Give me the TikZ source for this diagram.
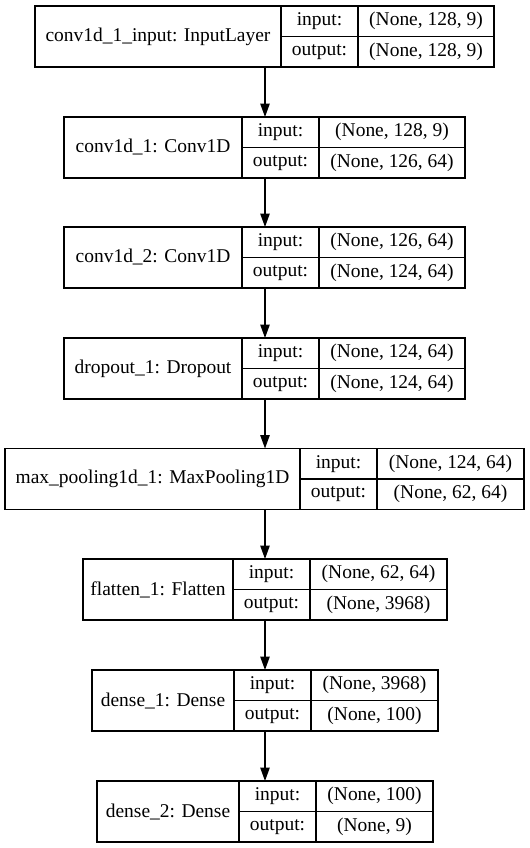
\documentclass[tikz,border=0pt]{standalone}
\usepackage{fontspec}
\setmainfont{Liberation Serif}
\usetikzlibrary{arrows.meta}
\tikzset{
  layerbox/.style={draw=black, line width=1pt, inner sep=0pt, outer sep=0pt, anchor=north west},
  cellline/.style={draw=black, line width=1pt},
  txt/.style={inner sep=0pt, font=\fontsize{14.6pt}{17pt}\selectfont, text=black},
  flow/.style={draw=black, line width=1pt, -{Triangle[length=10pt,width=7pt]}},
}
% #1 name, #2 top, #3 left, #4 div1, #5 div2, #6 right, #7 label, #8 input, #9 output
\newcommand\mylayer[9]{%
  \node[layerbox, minimum width={(#6-#3)*0.75pt}, minimum height=45.75pt] (#1) at (#3,#2) {};
  \draw[cellline] (#4,#2) -- (#4,#2+61) (#5,#2) -- (#5,#2+61) (#4,#2+30.5) -- (#6,#2+30.5);
  \node[txt] (#1-n) at ({(#3+#4)/2},#2+30.5) {#7};
  \node[txt] (#1-i) at ({(#4+#5)/2},#2+15.25) {input:};
  \node[txt] (#1-o) at ({(#4+#5)/2},#2+45.75) {output:};
  \node[txt] (#1-iv) at ({(#5+#6)/2},#2+15.25) {#8};
  \node[txt] (#1-ov) at ({(#5+#6)/2},#2+45.75) {#9};
}
\begin{document}
\begin{tikzpicture}[x=0.75pt,y=-0.75pt]
  \fill[white] (0,0) rectangle (529,848);
  \useasboundingbox (0,0) rectangle (529,848);
  \mylayer{L1}{6}{35}{281}{358}{494}{conv1d\_1\_input: InputLayer}{(None, 128, 9)}{(None, 128, 9)}
  \mylayer{L2}{117}{64}{242}{319}{465}{conv1d\_1: Conv1D}{(None, 128, 9)}{(None, 126, 64)}
  \mylayer{L3}{227}{64}{242}{319}{465}{conv1d\_2: Conv1D}{(None, 126, 64)}{(None, 124, 64)}
  \mylayer{L4}{338}{64}{242}{319}{465}{dropout\_1: Dropout}{(None, 124, 64)}{(None, 124, 64)}
  \mylayer{L5}{448.5}{5}{300}{377}{524}{max\_pooling1d\_1: MaxPooling1D}{(None, 124, 64)}{(None, 62, 64)}
  \mylayer{L6}{559}{83}{233}{310}{447}{flatten\_1: Flatten}{(None, 62, 64)}{(None, 3968)}
  \mylayer{L7}{670}{92}{234}{311}{438}{dense\_1: Dense}{(None, 3968)}{(None, 100)}
  \mylayer{L8}{781}{97}{239}{316}{433}{dense\_2: Dense}{(None, 100)}{(None, 9)}
  \draw[flow] (L1.south -| L8.north) -- (L2.north -| L8.north);
  \draw[flow] (L2.south -| L8.north) -- (L3.north -| L8.north);
  \draw[flow] (L3.south -| L8.north) -- (L4.north -| L8.north);
  \draw[flow] (L4.south -| L8.north) -- (L5.north -| L8.north);
  \draw[flow] (L5.south -| L8.north) -- (L6.north -| L8.north);
  \draw[flow] (L6.south -| L8.north) -- (L7.north -| L8.north);
  \draw[flow] (L7.south -| L8.north) -- (L8.north);
\end{tikzpicture}
\end{document}
